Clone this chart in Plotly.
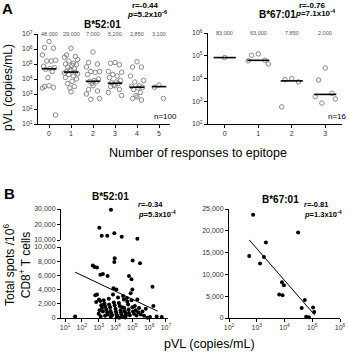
import plotly.graph_objects as go

W, H = 349, 363

# ---------------- Panel A data (log10 pVL, copies/mL) ----------------
a52_r0 = [6.5, 6.1, 6.05, 5.6, 5.25, 5.2, 5.2, 4.85, 4.75, 4.7, 4.65, 4.5, 4.1, 3.55, 3.5, 3.45, 3.4, 1.6]
a52_r1 = [6.05, 5.6, 5.5, 5.45, 5.3, 5.2, 5.05, 5.0, 4.95, 4.9, 4.8, 4.7, 4.6, 4.55, 4.5, 4.45, 4.4,
          4.35, 4.3, 4.2, 4.1, 4.0, 3.85, 3.7, 3.5, 3.4, 3.15]
a52_r2 = [5.8, 5.1, 5.0, 4.8, 4.5, 4.5, 4.45, 4.3, 4.0, 3.9, 3.85, 3.8, 3.7, 3.55, 3.3, 3.2, 3.0, 2.7, 2.65]
a52_r3 = [5.1, 5.05, 4.95, 4.5, 4.45, 4.3, 4.2, 4.1, 3.9, 3.8, 3.75, 3.7, 3.6, 3.55, 3.5, 3.3, 3.1, 2.9]
a52_r4 = [5.15, 4.8, 4.8, 4.2, 3.9, 3.8, 3.55, 3.5, 3.45, 3.4, 3.3, 3.1, 2.9, 2.8, 2.7, 2.6]
a52_r5 = [3.6, 3.45, 2.7]
a52_medians = [48000, 29000, 7000, 5200, 2850, 3100]
a52_median_labels = ["48,000", "29,000", "7,000", "5,200", "2,850", "3,100"]

a67_r0 = [4.92]
a67_r1 = [5.08, 5.02, 4.8, 4.78, 4.64]
a67_r2 = [4.0, 3.95, 3.85, 2.75]
a67_r3 = [4.46, 3.93, 3.35, 3.2, 3.1, 2.92]
a67_medians = [83000, 63000, 7850, 2000]
a67_median_labels = ["83,000", "63,000", "7,850", "2,000"]

# ---------------- Panel B data ----------------
b52_pvl_log = [3.73, 3.04, 3.18, 3.51, 3.93, 4.37, 5.3,
               3.95, 3.93, 5.02, 5.46, 2.65, 2.75, 2.9, 3.1, 3.25, 3.53, 4.8, 4.95, 6.2, 3.88,
               3.02, 3.1, 3.15, 3.2, 3.05, 3.25, 3.3, 3.35, 3.4, 3.45, 3.5, 3.55, 3.38, 3.6, 3.62,
               3.68, 3.7, 3.75, 3.8, 3.72, 3.85, 3.9, 3.95, 4.0, 4.02, 4.05, 4.1, 4.08, 4.15, 4.2,
               4.25, 4.3, 4.32, 4.35, 4.4, 4.45, 4.5, 4.52, 4.55, 4.6, 4.62, 4.68, 4.7, 4.75, 4.78,
               4.8, 4.85, 4.9, 4.95, 5.0, 5.05, 5.1, 5.15, 5.2, 5.25, 5.3, 5.35, 5.4, 5.5, 5.6, 5.7,
               5.8, 6.05, 6.25, 6.45, 6.75, 2.8, 2.9, 2.85, 1.6, 3.0, 3.12, 4.22, 4.58, 5.9,
               4.05, 5.0, 3.3, 4.4]
b52_spots = [29500, 17900, 12800, 12800, 14300, 12100, 10800,
             8400, 7900, 8100, 7700, 7400, 7200, 7100, 6100, 6200, 5900, 5900, 5450, 4400, 4200,
             2600, 2400, 1800, 1400, 1100, 900, 2500, 2000, 1600, 1200, 800, 500, 300, 2700, 1900,
             1500, 1000, 700, 400, 150, 3300, 2200, 1800, 1300, 900, 600, 300, 100, 2900, 2100,
             1700, 1100, 800, 500, 200, 3100, 2600, 1400, 950, 650, 350, 2800, 2300, 1900, 1200,
             700, 400, 3500, 2500, 1500, 900, 600, 1700, 1100, 350, 2600, 800, 1400, 500, 900, 300,
             1300, 150, 1700, 200, 150, 3200, 3300, 2250, 200, 600, 200, 50, 80, 50,
             4000, 4000, 1900, 1500]
b52_fit = [8243, -1120]        # intercept, slope (spots per log10 pVL)
b52_fit_range = [1.6, 6.5]

b67_pvl_log = [2.87, 4.49, 3.33, 2.73, 3.26, 3.12, 3.91, 3.98, 3.81, 3.93, 4.73, 4.62, 5.03, 5.07, 4.78, 4.88]
b67_spots = [23700, 19600, 17300, 14200, 14000, 12500, 8200, 7500, 5400, 5200, 4100, 2300, 2400, 1400, 300, 200]
b67_fit = [37830, -7300]
b67_fit_range = [2.73, 5.09]

# ---------------- helpers ----------------
def px(x):
    return x / W

def py(y):
    return 1 - y / H

JIT = [0.0, -0.2, 0.2, -0.3, 0.3, -0.1, 0.1, -0.25, 0.25, 0.05, -0.15, 0.15, -0.05]

def strip_points(groups):
    xs, ys = [], []
    for cat, vals in enumerate(groups):
        for i, v in enumerate(sorted(vals, reverse=True)):
            xs.append(cat + JIT[i % len(JIT)])
            ys.append(10 ** v)
    return xs, ys

def median_segments(medians, half=0.33):
    xs, ys = [], []
    for cat, m in enumerate(medians):
        xs += [cat - half, cat + half, None]
        ys += [m, m, None]
    return xs, ys

GRAY = "#8a8a8a"
FONT = "Liberation Sans, Arial, sans-serif"

fig = go.Figure()

# Panel A left
xs, ys = strip_points([a52_r0, a52_r1, a52_r2, a52_r3, a52_r4, a52_r5])
fig.add_trace(go.Scatter(x=xs, y=ys, mode="markers", xaxis="x", yaxis="y", cliponaxis=False,
                         marker=dict(symbol="circle-open", size=4.5, color=GRAY, line=dict(width=1))))
mx, my = median_segments(a52_medians)
fig.add_trace(go.Scatter(x=mx, y=my, mode="lines", xaxis="x", yaxis="y",
                         line=dict(color="black", width=1.6)))

# Panel A right
xs, ys = strip_points([a67_r0, a67_r1, a67_r2, a67_r3])
fig.add_trace(go.Scatter(x=xs, y=ys, mode="markers", xaxis="x2", yaxis="y2", cliponaxis=False,
                         marker=dict(symbol="circle-open", size=4.5, color=GRAY, line=dict(width=1))))
mx, my = median_segments(a67_medians)
fig.add_trace(go.Scatter(x=mx, y=my, mode="lines", xaxis="x2", yaxis="y2",
                         line=dict(color="black", width=1.6)))

# Panel B left (broken axis)
lo_x = [10 ** l for l, s in zip(b52_pvl_log, b52_spots) if s <= 10000]
lo_y = [s for s in b52_spots if s <= 10000]
hi_x = [10 ** l for l, s in zip(b52_pvl_log, b52_spots) if s > 10000]
hi_y = [s for s in b52_spots if s > 10000]
fig.add_trace(go.Scatter(x=lo_x, y=lo_y, mode="markers", xaxis="x3", yaxis="y3", cliponaxis=False,
                         marker=dict(size=4, color="black")))
fig.add_trace(go.Scatter(x=hi_x, y=hi_y, mode="markers", xaxis="x3", yaxis="y4", cliponaxis=False,
                         marker=dict(size=4, color="black")))
fx = b52_fit_range
fig.add_trace(go.Scatter(x=[10 ** v for v in fx], y=[b52_fit[0] + b52_fit[1] * v for v in fx],
                         mode="lines", xaxis="x3", yaxis="y3", line=dict(color="black", width=1)))

# Panel B right
fig.add_trace(go.Scatter(x=[10 ** v for v in b67_pvl_log], y=b67_spots, mode="markers",
                         xaxis="x4", yaxis="y5", cliponaxis=False, marker=dict(size=4, color="black")))
fx = b67_fit_range
fig.add_trace(go.Scatter(x=[10 ** v for v in fx], y=[b67_fit[0] + b67_fit[1] * v for v in fx],
                         mode="lines", xaxis="x4", yaxis="y5", line=dict(color="black", width=1)))

ax = dict(showline=True, linecolor="black", linewidth=1, ticks="outside", ticklen=3, tickwidth=1,
          tickcolor="black", showgrid=False, zeroline=False, tickfont=dict(size=7, color="#333"),
          automargin=False)

def logticks(a, b):
    return dict(tickvals=[10 ** k for k in range(a, b + 1)],
                ticktext=[f"10<sup>{k}</sup>" for k in range(a, b + 1)])

fig.update_layout(
    width=W, height=H, margin=dict(l=0, r=0, t=0, b=0, pad=0),
    paper_bgcolor="white", plot_bgcolor="white", showlegend=False,
    font=dict(family=FONT, color="black"),
    xaxis=dict(ax, domain=[px(38), px(170)], range=[-0.5, 5.5], tickvals=list(range(6)), anchor="y"),
    yaxis=dict(ax, domain=[py(124), py(34)], type="log", range=[1, 7], anchor="x", **logticks(1, 7)),
    xaxis2=dict(ax, domain=[px(208), px(342)], range=[-0.5, 3.5], tickvals=list(range(4)), anchor="y2"),
    yaxis2=dict(ax, domain=[py(124), py(33)], type="log", range=[2, 6], anchor="x2", **logticks(2, 6)),
    xaxis3=dict(ax, domain=[px(61), px(168)], type="log", range=[0.76, 7.12], anchor="y3", **logticks(1, 7)),
    yaxis3=dict(ax, domain=[py(318), py(247)], range=[0, 10000], anchor="x3",
                tickvals=[0, 2000, 4000, 6000, 8000, 10000],
                ticktext=["0", "2,000", "4,000", "6,000", "8,000", "10,000"]),
    yaxis4=dict(ax, domain=[py(240), py(209)], range=[10000, 30000], anchor="x3",
                tickvals=[10000, 20000, 30000], ticktext=["10,000", "20,000", "30,000"]),
    xaxis4=dict(ax, domain=[px(229), px(340)], type="log", range=[2, 6], anchor="y5", **logticks(2, 6)),
    yaxis5=dict(ax, domain=[py(318), py(209)], range=[0, 25000], anchor="x4",
                tickvals=[0, 5000, 10000, 15000, 20000, 25000],
                ticktext=["0", "5,000", "10,000", "15,000", "20,000", "25,000"]),
)

ann = []
def txt(x, y, t, size, xanchor="center", bold=False, angle=0, color="black", xref="paper", yref="paper"):
    if bold:
        t = f"<b>{t}</b>"
    ann.append(dict(x=x, y=y, xref=xref, yref=yref, text=t, showarrow=False, xanchor=xanchor,
                    yanchor="middle", textangle=angle, font=dict(size=size, color=color, family=FONT)))

# median value labels
for i, lab in enumerate(a52_median_labels):
    txt(i, 7, lab, 5.5, color="#555", xref="x", yref="y")
for i, lab in enumerate(a67_median_labels):
    txt(i, 6, lab, 5.5, color="#555", xref="x2", yref="y2")

txt(px(7), py(8), "A", 15, bold=True)
txt(px(9), py(194), "B", 15, bold=True)

txt(px(102), py(24), "B*52:01", 10, bold=True)
txt(px(130), py(5), "r=-0.44", 8, xanchor="left", bold=True)
txt(px(125), py(14), "<i>p</i>=5.2x10<sup>-6</sup>", 8, xanchor="left", bold=True)
txt(px(277), py(15), "B*67:01", 10, bold=True)
txt(px(297), py(5), "r=-0.76", 8, xanchor="left", bold=True)
txt(px(293), py(13), "<i>p</i>=7.1x10<sup>-4</sup>", 8, xanchor="left", bold=True)
txt(px(165), py(116), "n=100", 8)
txt(px(337), py(116), "n=16", 8)

txt(px(8), py(88), "pVL (copies/mL)", 12, angle=-90)
txt(px(198), py(153), "Number of responses to epitope", 12.5)

txt(px(111), py(196), "B*52:01", 10, bold=True)
txt(px(136), py(204.5), "<i>r</i>=-0.34", 7.5, xanchor="left", bold=True)
txt(px(136), py(213.5), "<i>p</i>=5.3x10<sup>-4</sup>", 7.5, xanchor="left", bold=True)
txt(px(280), py(199), "B*67:01", 10, bold=True)
txt(px(302), py(204.5), "<i>r</i>=-0.81", 7.5, xanchor="left", bold=True)
txt(px(302), py(213.5), "<i>p</i>=1.3x10<sup>-4</sup>", 7.5, xanchor="left", bold=True)

txt(px(17), py(265), "Total spots /10<sup>6</sup><br>CD8<sup>+</sup> T cells", 12, angle=-90)
txt(px(209), py(344), "pVL (copies/mL)", 12.5)

fig.update_layout(annotations=ann)
fig.write_html("out.html")
